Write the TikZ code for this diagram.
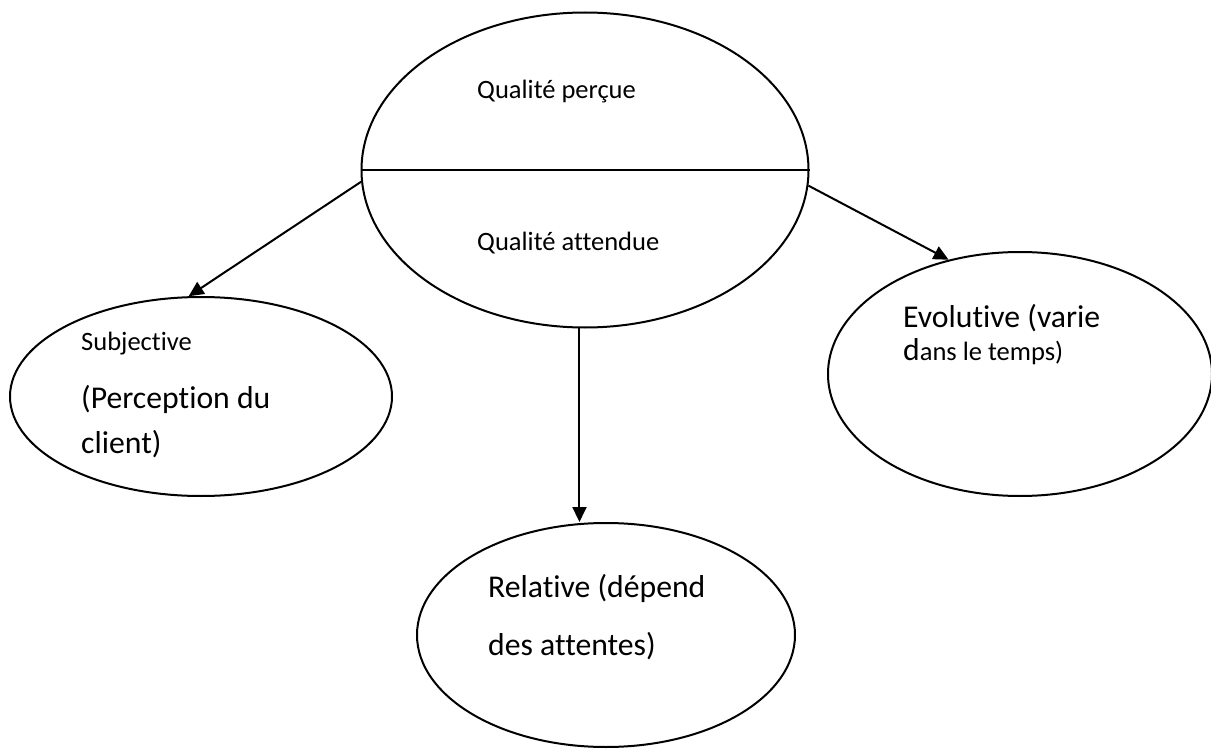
\documentclass[tikz,border=0pt]{standalone}
\usepackage{fontspec}
\setmainfont{Carlito}[Ligatures={NoCommon}]
\usetikzlibrary{shapes.geometric,arrows.meta}

\newcommand{\smalltxt}{\fontsize{26.5}{30}\selectfont}
\newcommand{\bigtxt}{\fontsize{31.7}{36}\selectfont}

\tikzset{
  bubble/.style={draw, ellipse, line width=2pt, inner sep=0pt},
  lbl/.style={anchor=base west, inner sep=0pt, font=\smalltxt},
  biglbl/.style={anchor=base west, inner sep=0pt, font=\bigtxt},
  arr/.style={line width=2pt, -{Triangle[length=15pt,width=14pt]}},
  divider/.style={line width=2pt}
}

\begin{document}
\begin{tikzpicture}[x=1pt,y=-1pt]
  \useasboundingbox (0,0) rectangle (1211,749);

  % central ellipse split in two halves
  \node[bubble, minimum width=447pt, minimum height=315pt] (top) at (585,170) {};
  \draw[divider] (top.west) -- (top.east);
  \node[lbl] (percue) at (477,99) {Qualité perçue};
  \node[lbl] (attendue) at (477,250) {Qualité attendue};

  % characteristics
  \node[bubble, minimum width=382pt, minimum height=199pt] (subj) at (201,396.5) {};
  \node[lbl] (subj1) at (81,350) {Subjective};
  \node[biglbl] (subj2) at (81,408) {(Perception du};
  \node[biglbl] (subj3) at (81,453) {client)};

  \node[bubble, minimum width=384pt, minimum height=244pt] (evol) at (1020,374) {};
  \node[biglbl] (evol1) at (903,327) {Evolutive (varie};
  \node[lbl] (evol2) at (903,360) {{\bigtxt d}ans le temps)};

  \node[bubble, minimum width=378pt, minimum height=224pt] (rel) at (606,635) {};
  \node[biglbl] (rel1) at (488,597) {Relative (dépend};
  \node[biglbl] (rel2) at (488,655) {des attentes)};

  % connectors
  \draw[arr] (top.183.6) -- (subj.97.4);
  \draw[arr] (top.356.4) -- (evol.122.7);
  \draw[arr] (top.268) -- (top.268 |- rel.north);
\end{tikzpicture}
\end{document}
